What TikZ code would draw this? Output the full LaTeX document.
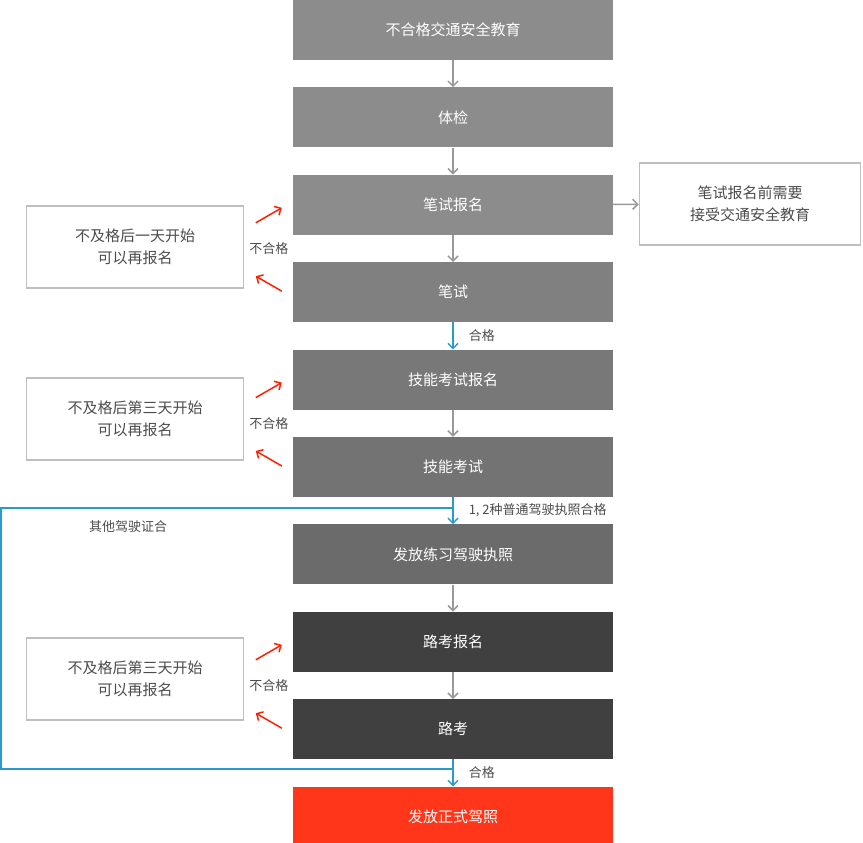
\documentclass[tikz,border=0pt]{standalone}
\usepackage{fontspec}
\setmainfont{Noto Sans CJK SC}
\usetikzlibrary{positioning,arrows.meta,calc}
\tikzset{step box/.style={minimum width=320pt,minimum height=60pt,inner sep=0pt,text=white,font=\fontsize{15}{18}\selectfont}}
\tikzset{note/.style={draw=black!25,line width=1.5pt,fill=white,minimum height=82pt,inner sep=0pt,text=black!70,align=center,font=\fontsize{15}{22}\selectfont}}
\tikzset{flow/.style={draw=black!40,line width=1.5pt,-{Straight Barb[length=5pt,width=10pt]}}}
\tikzset{pass/.style={draw=cyan!60!teal,line width=1.5pt,-{Straight Barb[length=5pt,width=10pt]}}}
\tikzset{fail/.style={draw=red!75!orange,line width=1.5pt,-{Straight Barb[length=5pt,width=10pt]}}}
\tikzset{tag/.style={text=black!70,font=\fontsize{13}{15}\selectfont,inner sep=1pt}}
\begin{document}
\begin{tikzpicture}[x=1pt,y=-1pt]
\useasboundingbox (0,0) rectangle (863,843);
\node[step box,fill=black!45] (edu) at (453,30) {不合格交通安全教育};
\node[step box,fill=black!45,below=27pt of edu] (body) {体检};
\node[step box,fill=black!45,below=27pt of body] (signw) {笔试报名};
\node[step box,fill=black!50,below=27pt of signw] (written) {笔试};
\node[step box,fill=black!53,below=27pt of written] (signs) {技能考试报名};
\node[step box,fill=black!55,below=27pt of signs] (skill) {技能考试};
\node[step box,fill=black!58,below=27pt of skill] (permit) {发放练习驾驶执照};
\node[step box,fill=black!75,below=27pt of permit] (signr) {路考报名};
\node[step box,fill=black!75,below=27pt of signr] (road) {路考};
\node[step box,fill=red!75!orange!90!white,below=27pt of road] (license) {发放正式驾照};
% notes
\node[note,minimum width=221pt] (pre) at (750,204) {笔试报名前需要\\接受交通安全教育};
\node[note,minimum width=217pt] (fail1) at (135,247) {不及格后一天开始\\可以再报名};
\node[note,minimum width=217pt] (fail2) at (135,419) {不及格后第三天开始\\可以再报名};
\node[note,minimum width=217pt] (fail3) at (135,679) {不及格后第三天开始\\可以再报名};
% main flow
\path[flow] (edu) -- (body);
\path[flow] (body) -- (signw);
\path[flow] (signw) -- (written);
\path[flow] (signs) -- (skill);
\path[flow] (permit) -- (signr);
\path[flow] (signr) -- (road);
\path[flow] (signw) -- (pre);
\path[pass] (written) -- node[tag,right=14pt,pos=0.5] {合格} (signs);
\path[pass] (skill) -- node[tag,right=14pt,pos=0.5] {1, 2种普通驾驶执照合格} (permit);
\path[pass] (road) -- node[tag,right=14pt,pos=0.5] {合格} (license);
% other licences
\coordinate (topl) at (1,508);
\coordinate (botl) at (1,769);
\draw[draw=cyan!60!teal,line width=1.5pt] (skill.south |- topl) -- (topl) -- (botl) -- (license.north |- botl);
\node[tag,anchor=west] (other) at (88,527) {其他驾驶证合};
% failed attempts
\foreach \s/\t/\n in {signw/written/1,signs/skill/2,signr/road/3}{
  \coordinate (up\n) at ($(\s.west)+(-37,18)$);
  \path[fail] (up\n) -- ($(\s.west)+(-11,3)$);
  \path[fail] ($(\t.west)+(-11,-1)$) -- ($(\t.west)+(-37,-16)$);
  \node[tag] (no\n) at ($(\s.west)!0.5!(\t.west)+(-24,0)$) {不合格};
}
\end{tikzpicture}
\end{document}
